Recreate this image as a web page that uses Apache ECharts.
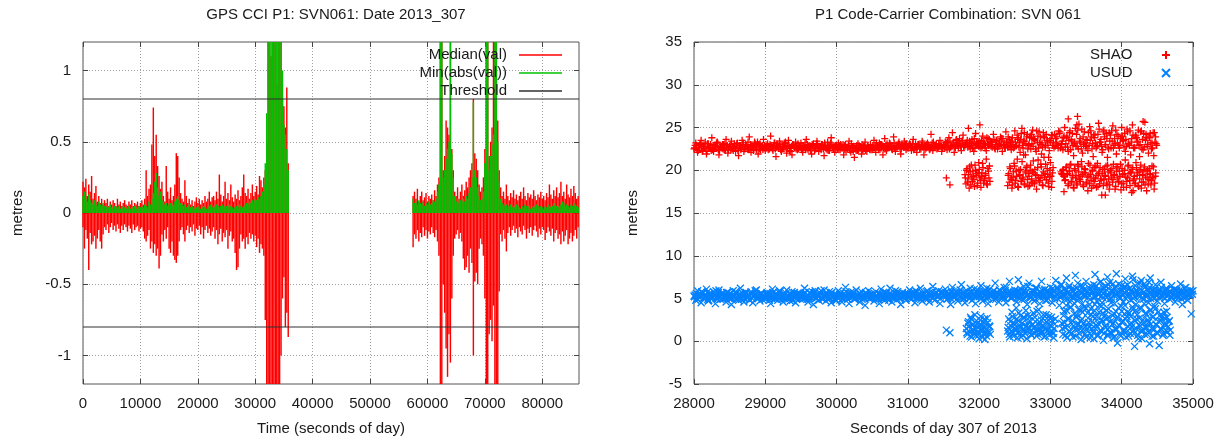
<!DOCTYPE html>
<html><head><meta charset="utf-8">
<script src="https://cdn.jsdelivr.net/npm/echarts@6/dist/echarts.min.js"></script>
<style>html,body{margin:0;padding:0;background:#fff}#c{width:1227px;height:441px}</style>
</head><body><div id="c"></div>
<script>
// ---------------- LEFT CHART DATA ----------------
const leftTitle = 'GPS CCI P1: SVN061: Date 2013_307';
const binStep = 250;            // seconds per impulse bin
const segAStart = 0;
const segBStart = 57500;
const medianHiA = [0.22,0.18,0.24,0.12,0.20,0.15,
 0.26,0.10,0.14,0.19,0.08,0.12,0.07,0.10,0.06,0.09,
 0.07,0.10,0.05,0.08,0.06,0.09,0.07,0.05,0.10,0.06,0.08,0.05,0.07,0.09,0.06,
 0.05,0.08,0.06,0.09,0.05,0.07,0.06,0.08,0.05,0.07,
 0.09,0.06,0.10,0.30,0.12,0.17,0.20,
 0.48,0.74,0.40,0.55,0.33,0.26,0.17,0.22,0.12,
 0.08,0.33,0.15,0.10,0.18,0.09,0.12,0.20,
 0.42,0.40,0.25,0.14,
 0.10,0.08,0.23,0.12,0.07,0.10,0.06,0.09,0.05,0.08,0.11,0.07,0.10,0.06,0.09,0.07,0.12,0.08,0.10,0.15,0.08,0.11,
 0.12,0.09,0.15,0.10,0.27,0.13,0.08,0.12,0.22,0.10,0.14,0.09,0.20,0.11,0.08,0.13,0.10,0.16,0.09,0.12,0.18,0.27,0.14,
 0.12,0.17,0.10,0.14,0.20,0.12,0.15,0.19,0.13,0.26,0.23,0.18,0.25,
 0.30,0.50,1.5,1.5,1.1,1.5,1.5,1.5,0.9,1.5,1.5,1.2,0.80,0.75,0.60,0.88,0.35];
const medianLoA = [-0.10,-0.25,-0.12,-0.18,-0.40,-0.14,
 -0.22,-0.20,-0.16,-0.25,-0.18,-0.12,-0.20,-0.25,-0.15,-0.10,
 -0.12,-0.08,-0.14,-0.10,-0.07,-0.12,-0.09,-0.13,-0.08,-0.11,-0.14,-0.09,-0.12,-0.08,-0.10,
 -0.13,-0.09,-0.11,-0.14,-0.08,-0.12,-0.10,-0.09,-0.13,-0.11,
 -0.10,-0.13,-0.18,-0.20,-0.16,-0.12,-0.25,
 -0.20,-0.28,-0.22,-0.30,-0.25,-0.39,-0.30,-0.15,-0.20,
 -0.12,-0.18,-0.10,-0.25,-0.28,-0.20,-0.30,-0.33,
 -0.35,-0.30,-0.20,-0.12,
 -0.10,-0.15,-0.20,-0.12,-0.09,-0.14,-0.10,-0.13,-0.08,-0.16,-0.11,-0.12,-0.09,-0.15,-0.10,-0.18,-0.12,-0.09,-0.14,-0.11,-0.16,-0.13,
 -0.10,-0.18,-0.12,-0.22,-0.15,-0.11,-0.20,-0.14,-0.17,-0.12,-0.25,-0.16,-0.13,-0.20,-0.18,-0.28,-0.40,-0.38,-0.25,-0.15,-0.20,-0.18,-0.25,
 -0.17,-0.22,-0.14,-0.18,-0.15,-0.20,-0.16,-0.24,-0.18,-0.28,-0.22,-0.25,-0.30,
 -0.75,-1.5,-1.5,-1.5,-1.5,-1.5,-1.5,-1.5,-1.5,-1.5,-1.5,-1.0,-0.60,-0.45,-0.80,-0.70,-0.87];
const minAbsA = [0.12,0.15,0.10,0.08,0.13,0.09,
 0.07,0.06,0.09,0.06,0.05,0.08,0.06,0.05,0.07,0.05,
 0.04,0.05,0.04,0.06,0.04,0.03,0.05,0.04,0.04,0.05,0.03,0.04,0.05,0.04,0.03,
 0.04,0.05,0.03,0.04,0.04,0.05,0.03,0.04,0.05,0.04,
 0.05,0.04,0.06,0.05,0.04,0.08,0.06,
 0.10,0.14,0.22,0.28,0.18,0.12,0.15,0.09,0.08,
 0.06,0.07,0.05,0.06,0.07,0.05,0.06,0.08,
 0.10,0.12,0.09,0.07,
 0.06,0.05,0.06,0.04,0.05,0.06,0.04,0.05,0.04,0.03,0.04,0.05,0.04,0.03,0.04,0.05,0.04,0.03,0.04,0.05,0.06,0.04,
 0.05,0.04,0.06,0.05,0.04,0.05,0.06,0.05,0.04,0.05,0.04,0.06,0.05,0.04,0.03,0.04,0.05,0.04,0.06,0.05,0.04,0.05,0.06,
 0.07,0.06,0.08,0.07,0.09,0.08,0.10,0.09,0.11,0.10,0.12,0.15,0.20,
 0.35,0.70,1.5,1.5,1.5,1.5,1.2,1.5,1.5,1.5,1.5,1.5,1.0,0.62,0.55,0.45,0.30];
const medianHiB = [0.12,0.15,0.10,0.17,0.08,0.12,0.15,0.09,0.11,0.14,0.08,0.12,0.10,0.13,0.09,0.16,0.12,0.20,
 0.25,1.2,1.5,0.30,0.40,0.65,0.60,0.55,1.5,0.45,0.30,0.15,
 0.12,0.18,0.10,0.15,0.20,0.12,0.16,0.22,0.18,0.25,0.30,
 0.35,0.80,0.42,0.38,0.30,0.20,0.15,0.18,0.25,
 0.45,1.5,1.5,0.40,0.50,0.60,1.5,1.5,1.5,0.65,0.30,
 0.18,0.12,0.15,0.10,0.20,0.12,0.09,0.14,0.11,0.16,
 0.10,0.13,0.09,0.12,0.15,0.10,0.18,0.12,0.09,0.14,
 0.11,0.13,0.10,0.16,0.12,0.09,0.13,0.11,0.15,0.10,
 0.12,0.09,0.14,0.11,0.20,0.13,0.10,0.16,0.12,0.18,
 0.11,0.14,0.22,0.12,0.15,0.10,0.20,0.13,0.11,0.17,
 0.12,0.19,0.14,0.10,0.12];
const medianLoB = [-0.24,-0.15,-0.18,-0.12,-0.20,-0.14,-0.17,-0.10,-0.16,-0.12,-0.18,-0.13,-0.15,-0.10,-0.14,-0.17,-0.12,-0.20,
 -0.30,-1.5,-1.5,-0.50,-0.70,-0.95,-1.15,-0.85,-1.05,-0.60,-0.30,-0.18,
 -0.15,-0.12,-0.18,-0.14,-0.20,-0.32,-0.40,-0.38,-0.30,-0.42,-0.25,
 -0.35,-1.0,-0.48,-0.42,-0.50,-0.25,-0.18,-0.22,-0.30,
 -0.60,-1.5,-1.5,-0.85,-0.75,-0.90,-0.65,-1.5,-1.5,-1.5,-0.55,
 -0.15,-0.20,-0.12,-0.18,-0.27,-0.14,-0.10,-0.16,-0.12,-0.09,
 -0.14,-0.11,-0.17,-0.10,-0.13,-0.15,-0.09,-0.12,-0.18,-0.11,
 -0.14,-0.10,-0.16,-0.12,-0.09,-0.13,-0.17,-0.11,-0.15,-0.10,
 -0.12,-0.19,-0.14,-0.10,-0.13,-0.16,-0.11,-0.20,-0.14,-0.12,
 -0.18,-0.15,-0.22,-0.13,-0.20,-0.16,-0.12,-0.22,-0.18,-0.14,
 -0.20,-0.16,-0.12,-0.18,-0.10];
const minAbsB = [0.10,0.07,0.08,0.06,0.09,0.07,0.06,0.08,0.05,0.07,0.06,0.08,0.06,0.07,0.09,0.08,0.10,0.15,
 0.20,1.5,1.5,0.25,0.30,0.38,0.45,0.50,1.5,0.42,0.25,0.12,
 0.08,0.10,0.07,0.09,0.08,0.10,0.08,0.12,0.10,0.14,0.18,
 0.25,0.78,0.30,0.25,0.18,0.12,0.09,0.10,0.15,
 0.35,1.5,1.5,0.30,0.40,0.48,0.55,1.5,1.5,0.50,0.22,
 0.10,0.07,0.06,0.05,0.06,0.04,0.05,0.06,0.04,0.05,
 0.04,0.06,0.05,0.04,0.03,0.05,0.04,0.06,0.05,0.04,
 0.05,0.03,0.04,0.05,0.04,0.06,0.05,0.04,0.05,0.04,
 0.03,0.05,0.04,0.06,0.05,0.04,0.05,0.07,0.06,0.05,
 0.04,0.05,0.06,0.08,0.07,0.05,0.06,0.05,0.04,0.06,
 0.05,0.07,0.06,0.05,0.04];
const thresholds = [0.8, -0.8];
const leftXMax = 86400;
const leftXTicks = [0,10000,20000,30000,40000,50000,60000,70000,80000];
const leftYTicks = [-1,-0.5,0,0.5,1];

// ---------------- RIGHT CHART DATA ----------------
const rightTitle = 'P1 Code-Carrier Combination: SVN 061';
const bandStep = 25, clusterStep = 15;
const bandStartA = 28000, bandStartB = 28008, bandStartC = 28016, clusterOffsetB = 7;
const shaoBandA = [
 22.5,23.2,22.1,22.9,23.5,22.3,22.8,21.9,23.1,22.6,23.8,22.2,22.9,23.3,21.8,22.7,23.0,22.4,23.6,22.0,
 22.8,23.4,22.3,22.6,23.1,21.7,22.9,23.5,22.2,23.0,22.5,23.9,22.1,22.8,23.3,22.4,21.9,23.1,22.7,23.6,
 22.3,23.0,22.8,24.0,22.5,23.2,21.6,22.9,23.4,22.2,22.7,23.1,22.0,23.5,22.6,21.8,22.9,23.3,22.4,22.8,
 23.2,22.1,22.7,23.6,22.4,22.9,21.9,23.1,22.5,23.4,22.2,22.8,23.0,21.7,22.6,23.3,22.3,23.8,22.7,22.1,
 22.9,23.2,22.4,22.8,21.8,23.0,22.5,23.4,22.1,22.7,21.5,22.3,23.1,22.6,21.9,22.8,23.3,22.2,22.6,23.0,
 22.4,23.5,22.1,22.9,23.2,22.6,21.8,23.7,22.3,22.8,23.1,22.5,23.9,22.2,22.7,23.3,21.9,22.9,23.4,22.4,
 22.8,23.1,22.3,23.6,22.6,22.1,23.0,22.7,23.4,21.8,22.9,23.2,22.5,24.2,22.3,22.8,23.1,22.6,23.5,22.2,
 22.9,23.3,22.4,23.8,22.7,24.4,22.1,23.5,22.9,23.7,22.3,24.1,22.8,23.2,24.9,22.5,23.6,22.2,24.3,23.0,
 23.4,22.6,24.0,23.1,22.3,23.7,22.9,23.3,24.2,22.5,23.5,22.8,23.9,22.2,23.2,24.5,22.7,23.6,22.4,23.0,
 24.6,22.9,23.8,22.1,24.9,23.4,21.8,24.2,23.0,22.5,24.7,23.6,22.2,24.0,23.2,21.9,24.4,22.7,23.5,21.5,
 23.3,24.1,22.6,23.7,22.9,24.3,23.1,22.4,25.0,23.8,22.2,24.6,23.4,21.7,24.9,22.8,25.4,23.2,22.0,24.5,
 23.6,22.3,25.1,23.9,21.6,24.2,22.8,25.5,23.3,22.1,24.7,23.0,21.5,24.4,22.6,25.2,23.7,21.9,24.0,22.9,
 25.0,23.5,22.2,24.8,23.1,21.8,25.3,22.7,24.1,23.4,21.6,24.6,22.4,25.6,23.8,22.0,24.3,23.2,21.7,23.9];
const shaoBandB = [
 22.6,22.9,22.3,23.1,22.5,22.8,23.3,22.2,22.7,23.0,22.4,22.9,22.6,23.2,22.3,22.8,22.5,23.1,22.7,22.4,
 23.0,22.5,22.8,22.2,23.2,22.7,22.4,23.0,22.6,22.9,23.3,22.5,22.8,22.3,23.1,22.7,23.0,22.4,22.9,22.6,
 22.8,23.1,22.5,22.9,22.3,23.2,22.7,22.6,23.0,22.4,22.8,23.3,22.5,22.9,22.2,23.0,22.7,22.5,23.1,22.8,
 22.4,22.9,23.2,22.6,22.8,22.3,23.0,22.7,22.5,23.1,22.8,22.4,22.9,23.2,22.6,22.3,22.8,23.0,22.5,22.9,
 22.7,22.4,23.0,22.6,22.9,22.3,22.7,22.5,23.1,22.2,22.6,22.9,22.4,22.7,23.0,22.5,22.3,22.8,22.6,22.4,
 22.9,22.6,23.2,22.7,22.4,23.0,22.8,22.5,23.1,22.7,22.9,22.4,23.2,22.6,22.8,23.0,22.5,22.9,22.7,23.1,
 22.6,23.0,22.8,22.4,23.1,22.7,22.9,22.5,23.2,22.8,22.6,23.0,22.4,22.9,23.3,22.7,22.5,23.1,22.8,22.6,
 23.0,22.7,23.3,22.5,22.9,23.2,22.8,23.6,22.6,23.1,23.4,22.7,23.0,23.5,22.8,23.2,22.6,23.7,22.9,23.3,
 22.8,23.5,23.1,22.6,23.8,22.9,23.3,22.7,23.6,23.0,22.5,23.4,22.9,23.7,22.7,23.2,23.9,22.8,23.4,22.6,
 23.3,24.1,22.7,23.6,22.9,24.4,23.1,22.5,23.8,24.2,22.8,23.5,24.6,22.6,23.9,23.2,24.0,22.9,23.4,22.3,
 23.7,22.9,24.2,23.3,22.6,24.5,23.0,23.8,22.7,24.0,23.5,22.4,24.3,23.1,22.8,24.7,23.4,22.5,23.9,23.2,
 22.8,24.4,23.5,22.5,24.1,23.2,22.9,24.8,23.6,22.4,23.9,24.3,22.7,23.4,24.6,22.6,23.1,24.2,22.9,23.7,
 24.0,22.7,23.6,24.5,22.9,23.3,24.1,22.6,23.8,24.7,23.0,22.5,24.3,23.5,22.8,24.0,23.2,22.6,24.4,23.1];
const shaoBandC = [
 22.9,22.4,22.7,23.0,22.2,22.8,22.5,23.1,22.6,22.3,22.9,22.7,23.2,22.4,22.8,22.6,23.0,22.3,22.9,22.7,
 22.4,22.8,23.1,22.6,22.3,22.9,22.7,23.2,22.5,22.8,22.4,23.0,22.7,22.6,22.9,23.3,22.5,22.8,22.4,22.9,
 22.6,22.4,23.0,22.7,22.9,22.5,23.1,22.8,22.4,22.7,23.2,22.6,22.9,22.3,22.8,23.0,22.6,22.9,22.5,22.7,
 22.9,22.6,22.4,23.0,22.7,22.5,22.9,22.3,23.1,22.7,22.6,23.0,22.5,22.8,22.4,22.9,23.2,22.6,22.8,22.5,
 22.5,22.8,22.6,23.0,22.4,22.7,22.9,22.3,22.6,22.8,22.5,22.3,22.9,22.6,22.4,22.8,22.6,22.9,22.4,22.7,
 22.6,22.9,22.7,22.4,23.0,22.8,22.5,22.9,22.6,23.2,22.7,22.9,22.6,22.8,23.1,22.5,22.9,22.7,23.0,22.6,
 22.9,22.7,23.1,22.6,22.8,23.0,22.5,22.9,22.7,22.4,23.0,22.8,22.6,23.2,22.7,22.9,22.6,22.8,23.0,22.7,
 22.7,23.2,22.9,23.4,22.8,23.0,22.6,23.3,23.1,22.8,23.5,22.9,23.2,22.7,23.4,22.9,23.1,22.6,23.3,22.8,
 23.2,22.7,23.4,22.9,23.1,23.6,22.8,23.3,22.6,23.5,23.1,22.9,23.7,23.0,22.6,23.4,22.9,23.2,23.8,22.7,
 22.8,23.6,23.2,24.3,22.6,23.4,23.9,22.9,24.0,23.1,23.7,22.5,23.3,24.5,23.0,22.7,23.8,24.2,22.9,23.5,
 24.1,23.2,22.8,23.9,24.6,22.6,23.4,24.0,23.1,22.7,24.4,23.6,22.9,23.3,24.2,22.5,23.7,24.8,23.0,22.8,
 23.5,22.9,24.6,23.1,23.8,22.6,24.2,23.3,22.8,24.5,23.0,23.7,22.5,24.1,23.4,22.9,24.7,23.2,22.6,23.9,
 23.4,24.3,22.8,23.1,24.6,23.7,22.6,24.0,23.3,22.9,24.5,23.6,22.7,24.2,23.0,23.8,22.5,24.4,23.3,22.9];
const shaoLow1Start = 31800;
const shaoLow1A = [19.5,18.4,20.2,19.0,17.9,19.8,20.6,18.7,19.3,18.1,20.0,19.6,18.5,20.9,19.1,18.0,19.7,20.3,18.8,19.4,21.3,18.3,19.9,20.5];
const shaoLow1B = [19.1,20.0,18.6,19.5,20.4,18.3,19.2,19.9,18.9,20.6,19.4,18.2,19.7,20.1,18.8,19.3,20.8,18.5,19.0,19.6,18.4,20.2,19.1,18.7];
const shaoLow2Start = 32400;
const shaoLow2A = [18.2,19.6,20.4,18.9,17.9,19.2,20.8,18.5,19.9,21.3,18.0,19.4,20.1,18.7,19.0,21.8,18.3,19.7,20.5,18.1,
 19.3,20.0,18.6,19.8,21.1,18.4,19.5,17.8,20.3,19.1,18.8,20.7,19.4,18.2,21.5,19.6,18.9,20.2,18.5,19.2,20.9,18.0,19.7];
const shaoLow2B = [19.4,18.6,20.2,19.1,18.3,19.8,20.5,18.8,19.3,18.1,20.0,19.5,18.7,21.0,19.2,18.4,19.9,20.3,18.9,19.6,
 18.2,20.6,19.0,18.5,19.7,20.1,18.8,19.4,21.2,18.6,19.1,20.4,18.3,19.8,19.2,20.7,18.9,19.5,18.1,20.0,19.3,18.7,20.3];
const shaoLow3Start = 33150;
const shaoLow3A = [19.8,19.5,20.1,19.3,18.9,20.4,19.6,18.4,19.9,20.7,18.6,19.2,17.9,20.0,19.4,18.3,20.5,19.0,18.7,21.0,
 19.5,18.1,20.2,19.7,18.5,17.6,19.3,20.6,18.8,19.9,18.2,20.3,19.1,18.0,20.8,19.6,18.4,19.0,17.1,20.1,
 18.9,19.4,20.5,18.3,19.8,17.8,20.0,19.2,18.6,20.7,19.5,18.1,19.9,20.4,18.7,19.3,17.7,20.2,18.5,19.6,
 21.2,18.0,19.1,20.6,18.8,19.7,17.4,20.3,19.0,18.4,20.9,19.4,18.2,19.8,20.1,17.9,19.5,18.6,20.4,19.2,
 17.6,20.0,18.9,19.6,18.3,20.5,19.1,17.8,19.3];
const shaoLow3B = [19.6,20.0,19.3,18.8,20.3,19.5,18.2,19.9,20.6,18.7,19.4,18.0,20.2,19.1,18.5,20.7,19.8,18.9,19.3,20.4,
 18.3,19.7,20.1,18.6,19.2,20.8,18.4,19.5,17.9,20.0,19.0,18.7,20.5,19.4,18.1,19.8,20.3,18.8,19.6,18.2,
 20.1,19.3,18.5,20.6,19.0,18.3,19.7,20.2,18.9,19.4,17.8,20.4,19.1,18.6,19.9,20.7,18.4,19.5,18.0,20.0,
 19.2,18.7,20.5,19.6,18.2,19.8,20.1,18.8,19.3,18.5,20.3,19.7,18.1,19.0,20.6,18.6,19.4,20.0,18.3,19.9,
 19.1,18.4,20.2,19.5,18.8,19.2,20.4,18.5,19.7];
const shaoExtra = [[31540,19.1],[31590,18.3],[32010,25.3],[33190,17.5],[33250,26.0],[33380,26.3],[33370,25.3],[33770,17.1],[34160,17.6],[34300,25.7]];
const usudBandA = [
 5.3,4.8,5.9,5.1,4.5,5.6,5.2,6.1,4.7,5.4,5.0,5.8,4.4,5.3,6.0,4.9,5.5,5.1,4.6,5.7,
 5.2,4.3,5.9,5.0,5.6,4.8,6.2,5.3,4.6,5.5,5.1,4.9,5.8,4.5,5.4,6.0,5.0,4.7,5.6,5.2,
 4.9,5.7,5.3,4.4,6.1,5.0,5.5,4.8,5.9,5.2,4.6,5.4,6.0,5.1,4.7,5.8,5.3,4.5,5.6,5.0,
 5.5,4.9,6.2,5.2,4.6,5.7,5.1,4.3,5.9,5.4,4.8,5.6,5.0,6.0,4.7,5.3,5.8,4.5,5.2,5.5,
 4.8,5.9,5.3,4.6,5.6,6.3,5.0,4.4,5.7,5.2,4.9,6.0,5.4,4.6,5.8,5.1,4.2,5.5,5.9,5.0,
 5.3,4.7,5.8,5.1,4.4,6.1,5.4,4.8,5.6,5.0,6.2,4.6,5.3,5.9,4.9,5.5,4.3,5.7,5.2,4.8,
 5.6,6.0,4.9,5.4,4.5,5.8,5.1,6.2,4.7,5.5,5.0,5.9,4.6,5.3,6.4,4.8,5.7,5.2,4.4,5.8,
 5.4,6.1,4.9,5.6,4.3,6.3,5.1,5.8,4.7,5.5,6.6,5.0,4.5,5.9,5.3,6.2,4.8,5.6,4.4,6.0,
 5.2,6.5,4.7,5.8,5.0,4.4,6.1,5.5,4.9,6.8,5.3,4.6,5.9,5.1,6.3,4.5,5.7,7.0,5.0,5.4,
 6.0,4.6,7.2,5.3,4.9,6.4,5.7,4.3,6.8,5.1,5.9,4.7,6.2,5.5,4.4,7.0,5.2,6.1,4.8,5.6,
 6.3,4.5,5.8,7.1,5.0,4.2,6.6,5.4,4.9,7.4,5.7,4.6,6.1,5.2,7.7,4.8,5.9,6.5,4.4,5.5,
 7.0,5.1,4.3,6.4,5.8,7.8,4.7,5.5,6.9,4.5,6.2,5.3,7.5,4.9,5.9,6.7,4.4,7.9,5.6,5.0,
 6.5,4.6,7.3,5.4,6.1,4.8,7.6,5.7,4.3,6.8,5.2,7.1,4.9,6.3,5.5,4.5,7.4,5.9,5.0,6.6,
 4.7,5.8,6.9,5.2,4.4,6.2,5.6,4.9,6.5,5.3,4.6,6.0,5.1,6.7,4.3,5.7,6.3,4.8,5.5,3.2,
 5.9];
const usudBandB = [
 5.2,5.6,4.9,5.4,5.8,5.0,5.3,5.7,4.8,5.5,5.1,5.4,5.9,5.0,5.3,5.6,4.9,5.2,5.7,5.1,
 5.5,5.0,5.3,5.8,4.9,5.4,5.1,5.6,5.0,5.7,5.2,4.8,5.5,5.3,5.9,5.0,5.4,5.6,4.9,5.3,
 5.1,5.5,4.8,5.3,5.7,5.0,5.4,5.2,5.8,4.9,5.6,5.1,5.3,5.0,5.5,4.8,5.7,5.2,5.4,5.6,
 5.0,5.4,5.7,4.9,5.3,5.1,5.8,5.2,5.0,5.5,5.3,5.9,4.9,5.4,5.6,5.1,5.0,5.7,5.3,4.8,
 5.4,5.1,5.6,5.0,5.3,5.8,4.9,5.5,5.2,5.7,5.0,5.3,5.1,5.6,4.9,5.4,5.7,5.2,5.0,5.5,
 5.1,5.6,5.3,4.9,5.5,5.0,5.7,5.2,5.4,4.8,5.6,5.3,5.1,5.5,5.8,5.0,5.4,5.2,5.6,5.3,
 5.4,5.0,5.7,5.3,5.9,5.1,5.5,4.9,5.6,5.2,5.8,5.0,5.4,5.7,5.1,5.5,5.3,5.9,5.0,5.6,
 5.3,5.7,5.0,5.5,5.9,5.2,5.6,4.9,5.4,6.0,5.1,5.7,5.3,5.5,5.0,5.8,5.4,6.1,5.2,5.6,
 5.5,5.0,5.8,5.3,6.2,5.1,5.6,5.4,5.9,4.9,5.7,6.0,5.2,5.5,5.0,6.3,5.4,5.8,5.1,5.6,
 5.3,5.9,5.1,6.1,5.5,4.9,5.7,6.4,5.2,5.6,5.0,5.8,6.2,5.4,5.1,6.0,5.5,4.8,5.9,5.3,
 5.7,6.2,5.0,5.5,6.0,5.2,6.6,5.4,5.8,4.9,6.3,5.6,5.1,6.1,5.3,6.8,5.0,5.7,6.4,5.2,
 5.6,6.3,4.9,5.9,6.6,5.2,6.0,5.5,7.0,5.1,5.8,6.4,5.3,6.9,5.0,5.7,6.2,5.4,6.7,5.1,
 5.8,6.2,5.0,6.6,5.4,5.9,7.2,5.2,6.0,5.5,6.8,5.1,5.7,6.4,5.3,6.9,5.0,5.6,6.1,5.4,
 5.9,5.2,6.3,5.6,5.0,6.1,5.4,5.8,5.1,6.0,5.5,5.3,5.9,5.0,5.7,6.2,5.2,5.6,5.4,5.8,
 5.3];
const usudBandC = [
 5.4,5.0,5.5,5.2,5.7,5.1,5.4,4.9,5.6,5.3,5.1,5.5,5.0,5.7,5.2,5.4,5.6,5.0,5.3,5.5,
 5.0,5.4,5.2,5.6,5.1,5.5,4.9,5.3,5.7,5.1,5.4,5.6,5.0,5.2,5.5,5.3,5.1,5.6,5.4,5.0,
 5.4,5.2,5.6,5.0,5.3,5.5,5.1,5.7,5.2,5.4,5.0,5.6,5.3,5.5,5.1,5.4,5.2,5.0,5.5,5.3,
 5.2,5.6,5.1,5.4,5.0,5.5,5.3,5.7,5.1,5.2,5.6,5.0,5.4,5.3,5.5,5.1,5.6,5.2,5.0,5.4,
 5.1,5.5,5.3,5.0,5.4,5.2,5.6,5.1,5.5,5.3,5.0,5.4,5.6,5.2,5.3,5.0,5.5,5.1,5.4,5.2,
 5.5,5.2,5.0,5.6,5.3,5.4,5.1,5.7,5.2,5.5,5.3,5.0,5.6,5.2,5.4,5.1,5.5,5.3,5.0,5.6,
 5.2,5.5,5.3,5.7,5.1,5.4,5.6,5.2,5.5,5.0,5.4,5.6,5.3,5.1,5.5,5.7,5.2,5.4,5.6,5.3,
 5.6,5.3,5.5,5.1,5.7,5.4,5.2,5.6,5.8,5.3,5.5,5.0,5.7,5.4,5.6,5.2,5.5,5.3,5.7,5.4,
 5.3,5.7,5.4,5.9,5.2,5.6,5.3,5.8,5.5,5.1,5.6,5.4,5.7,5.2,5.9,5.5,5.3,5.6,5.4,5.8,
 5.6,5.2,5.8,5.4,5.7,6.0,5.3,5.5,5.1,5.9,5.4,6.2,5.6,5.2,5.7,5.5,6.0,5.3,5.8,5.4,
 5.5,5.9,5.3,6.3,5.6,5.1,5.8,6.1,5.4,5.7,6.5,5.2,5.9,5.5,6.2,5.3,5.8,5.6,6.0,5.4,
 5.9,5.4,6.1,5.7,5.2,6.5,5.5,6.0,5.3,6.3,5.8,5.1,6.6,5.6,5.9,5.4,6.4,5.7,5.2,6.1,
 5.5,6.4,5.9,5.3,6.2,5.7,5.0,6.5,5.8,5.4,6.1,5.6,6.7,5.2,5.9,6.3,5.5,6.0,5.7,5.3,
 5.6,5.9,5.3,5.7,6.0,5.4,5.8,5.2,5.6,6.1,5.3,5.7,5.5,5.9,5.1,5.6,5.8,5.4,6.0,5.5,
 5.6];
const usudLow1Start = 31820;
const usudLow1A = [1.5,0.8,2.3,1.1,2.8,0.5,1.9,1.3,3.1,0.7,2.0,1.6,0.3,2.5,1.2,1.8,0.9,2.6,1.4,0.6,2.2,1.0,1.7];
const usudLow1B = [1.0,2.1,1.7,0.6,2.6,1.3,2.0,0.9,1.5,2.4,1.1,0.7,1.9,2.9,1.4,0.5,2.2,1.6,1.0,2.7,1.2,1.8,0.8];
const usudLow2Start = 32400;
const usudLow2A = [1.2,2.6,0.5,1.8,3.4,0.9,2.1,1.5,3.9,0.4,2.4,1.1,3.0,1.7,0.7,2.8,1.3,3.6,0.3,2.0,
 1.6,2.9,0.8,1.9,3.3,1.0,2.3,0.6,1.4,3.7,2.2,0.9,1.8,2.7,0.5,1.5,3.1,1.2,2.5,0.7,
 1.9,2.8,1.1,0.4,2.0];
const usudLow2B = [1.6,0.8,2.3,1.2,2.9,0.6,1.9,1.4,2.6,1.0,3.3,1.7,0.5,2.1,1.3,2.7,0.9,1.8,3.0,1.5,
 2.4,1.1,0.7,2.0,1.6,2.8,1.2,3.5,0.8,1.9,1.4,2.5,1.0,3.1,1.7,0.6,2.2,1.3,2.9,1.1,
 1.8,2.4,0.9,1.5,2.6];
const usudLow3Start = 33160;
const usudLow3A = [2.1,0.8,3.5,1.6,4.2,0.4,2.7,1.2,3.9,0.9,2.4,1.8,4.4,0.6,3.1,1.4,2.0,3.7,0.2,2.6,
 1.1,4.0,1.7,0.5,3.3,2.2,0.9,3.8,1.5,2.9,0.3,4.3,1.9,2.5,0.7,3.4,1.3,4.1,2.3,0.1,
 3.0,1.6,3.6,0.8,2.8,1.0,4.5,2.0,0.4,3.2,1.4,2.7,-0.2,3.9,1.8,0.6,3.5,2.4,1.1,4.2,
 0.5,2.9,1.7,3.3,0.9,2.1,4.0,1.3,-0.6,3.6,2.6,0.7,1.9,3.8,1.2,0.3,2.5,4.4,1.6,3.1,
 0.8,2.2,-0.3,3.7,1.5,2.8,0.6,4.1,2.0,1.0,3.4,-0.5,2.4,1.4,3.0,0.9,2.7,1.8,3.5,1.1,
 2.3,0.7];
const usudLow3B = [1.5,3.0,2.2,0.7,3.6,1.8,2.6,1.1,4.0,2.0,0.5,3.2,1.4,2.8,1.9,3.7,0.9,2.4,1.6,3.4,
 2.1,0.8,3.9,1.3,2.7,1.7,0.4,3.1,2.3,1.0,3.6,1.5,2.9,0.6,2.0,4.2,1.2,2.5,3.3,0.9,
 1.8,2.6,0.7,3.8,1.6,2.3,1.0,3.0,2.1,0.5,3.5,1.4,2.8,1.9,0.8,4.1,2.2,1.3,3.2,2.6,
 1.1,3.4,0.6,2.0,2.9,1.7,3.7,0.9,2.4,1.5,3.1,0.3,2.7,1.8,3.9,1.2,2.2,0.8,3.3,1.6,
 2.5,1.0,3.6,2.0,0.6,2.9,1.4,3.8,1.9,0.9,2.3,3.0,1.5,2.7,0.7,3.4,2.1,1.2,2.8,1.7,
 2.4,1.3];
const usudExtra = [[31540,1.3],[31590,1.0],[32080,0.2]];
const rightX = {min: 28000, max: 35000, interval: 1000};
const rightY = {min: -5, max: 35, interval: 5};

// ---------------- BUILD ----------------
const FONT = '"Liberation Sans", Arial, sans-serif';
const TXT = '#1a1a1a';
const RED = '#ff0000', GREEN = '#00c000', BLUE = '#0080ff';

function seq(start, step, vals) { return vals.map((v, i) => [start + i * step, v]); }
const medianData = [].concat(seq(segAStart, binStep, medianHiA), seq(segAStart, binStep, medianLoA),
                             seq(segBStart, binStep, medianHiB), seq(segBStart, binStep, medianLoB));
const minAbsData = [].concat(seq(segAStart, binStep, minAbsA), seq(segBStart, binStep, minAbsB));
const shaoData = [].concat(
  seq(bandStartA, bandStep, shaoBandA), seq(bandStartB, bandStep, shaoBandB), seq(bandStartC, bandStep, shaoBandC),
  seq(shaoLow1Start, clusterStep, shaoLow1A), seq(shaoLow1Start + clusterOffsetB, clusterStep, shaoLow1B),
  seq(shaoLow2Start, clusterStep, shaoLow2A), seq(shaoLow2Start + clusterOffsetB, clusterStep, shaoLow2B),
  seq(shaoLow3Start, clusterStep, shaoLow3A), seq(shaoLow3Start + clusterOffsetB, clusterStep, shaoLow3B),
  shaoExtra);
const usudData = [].concat(
  seq(bandStartA, bandStep, usudBandA), seq(bandStartB, bandStep, usudBandB), seq(bandStartC, bandStep, usudBandC),
  seq(usudLow1Start, clusterStep, usudLow1A), seq(usudLow1Start + clusterOffsetB, clusterStep, usudLow1B),
  seq(usudLow2Start, clusterStep, usudLow2A), seq(usudLow2Start + clusterOffsetB, clusterStep, usudLow2B),
  seq(usudLow3Start, clusterStep, usudLow3A), seq(usudLow3Start + clusterOffsetB, clusterStep, usudLow3B),
  usudExtra);

function impulse(params, api) {
  const t = api.value(0), v = api.value(1);
  const p0 = api.coord([t, 0]);
  const p1 = api.coord([t, v]);
  const cs = params.coordSys;
  const y1 = Math.max(cs.y, Math.min(cs.y + cs.height, p1[1]));
  const w = api.size([binStep, 0])[0];
  return {type: 'rect', shape: {x: p0[0] - w / 2, y: Math.min(p0[1], y1), width: w, height: Math.abs(y1 - p0[1])},
          style: {fill: api.visual('color')}};
}

const plain = function (v) { return String(v); };
const gridSplit = {show: true, lineStyle: {color: '#a0a0a0', type: [1, 2], width: 1}};
const tickIn = {show: true, inside: true, length: 5, lineStyle: {color: '#444'}};
const lbl = {fontSize: 15, color: TXT, fontFamily: FONT, margin: 12, formatter: plain};
const nameStyle = {fontSize: 15, color: TXT, fontFamily: FONT};
const noLine = {show: false, onZero: false};

const option = {
  animation: false,
  textStyle: {fontFamily: FONT},
  title: [
    {text: leftTitle, left: 331, top: 2, textAlign: 'center',
     textStyle: {fontSize: 15, fontWeight: 'normal', color: TXT, fontFamily: FONT}},
    {text: rightTitle, left: 943, top: 2, textAlign: 'center',
     textStyle: {fontSize: 15, fontWeight: 'normal', color: TXT, fontFamily: FONT}}
  ],
  legend: [
    {data: [{name: 'Median(val)', icon: 'rect'}, {name: 'Min(abs(val))', icon: 'rect'}, {name: 'Threshold', icon: 'rect'}],
     orient: 'vertical', align: 'right', right: 665, top: 46, itemWidth: 43, itemHeight: 1.5, itemGap: 0, padding: 0,
     selectedMode: false, textStyle: {fontSize: 15, color: TXT, fontFamily: FONT, lineHeight: 18, padding: [0, 7, 0, 0]}},
    {data: ['SHAO', 'USUD'],
     orient: 'vertical', align: 'right', right: 56, top: 46, itemWidth: 43, itemHeight: 8, itemGap: 0, padding: 0,
     selectedMode: false, textStyle: {fontSize: 15, color: TXT, fontFamily: FONT, lineHeight: 18, padding: [0, 7, 0, 0]}}
  ],
  grid: [
    {left: 83, top: 42, width: 496, height: 342, show: true, borderColor: '#555', borderWidth: 1, backgroundColor: 'transparent'},
    {left: 694, top: 42, width: 499, height: 342, show: true, borderColor: '#555', borderWidth: 1, backgroundColor: 'transparent'}
  ],
  xAxis: [
    {gridIndex: 0, type: 'value', min: 0, max: leftXMax, name: 'Time (seconds of day)', nameLocation: 'middle', nameGap: 37,
     nameTextStyle: nameStyle, axisLine: noLine,
     axisTick: Object.assign({customValues: leftXTicks}, tickIn),
     axisLabel: Object.assign({customValues: leftXTicks}, lbl),
     splitLine: Object.assign({customValues: leftXTicks}, gridSplit)},
    {gridIndex: 0, type: 'value', position: 'top', min: 0, max: leftXMax, axisLine: noLine,
     axisTick: Object.assign({customValues: leftXTicks}, tickIn), axisLabel: {show: false, customValues: leftXTicks}, splitLine: {show: false}},
    {gridIndex: 1, type: 'value', min: rightX.min, max: rightX.max, interval: rightX.interval,
     name: 'Seconds of day 307 of 2013', nameLocation: 'middle', nameGap: 37, nameTextStyle: nameStyle,
     axisLine: noLine, axisTick: tickIn, axisLabel: lbl, splitLine: gridSplit},
    {gridIndex: 1, type: 'value', position: 'top', min: rightX.min, max: rightX.max, interval: rightX.interval,
     axisLine: noLine, axisTick: tickIn, axisLabel: {show: false}, splitLine: {show: false}}
  ],
  yAxis: [
    {gridIndex: 0, type: 'value', min: -1.2, max: 1.2, name: 'metres', nameLocation: 'middle', nameGap: 58,
     nameTextStyle: nameStyle, axisLine: noLine,
     axisTick: Object.assign({customValues: leftYTicks}, tickIn),
     axisLabel: Object.assign({customValues: leftYTicks}, lbl),
     splitLine: Object.assign({customValues: leftYTicks}, gridSplit)},
    {gridIndex: 0, type: 'value', position: 'right', min: -1.2, max: 1.2, axisLine: noLine,
     axisTick: Object.assign({customValues: leftYTicks}, tickIn), axisLabel: {show: false, customValues: leftYTicks}, splitLine: {show: false}},
    {gridIndex: 1, type: 'value', min: rightY.min, max: rightY.max, interval: rightY.interval,
     name: 'metres', nameLocation: 'middle', nameGap: 54, nameTextStyle: nameStyle,
     axisLine: noLine, axisTick: tickIn, axisLabel: lbl, splitLine: gridSplit},
    {gridIndex: 1, type: 'value', position: 'right', min: rightY.min, max: rightY.max, interval: rightY.interval,
     axisLine: noLine, axisTick: tickIn, axisLabel: {show: false}, splitLine: {show: false}}
  ],
  series: [
    {type: 'custom', name: 'Median(val)', xAxisIndex: 0, yAxisIndex: 0, data: medianData, renderItem: impulse,
     itemStyle: {color: RED}, silent: true, progressive: 0},
    {type: 'custom', name: 'Min(abs(val))', xAxisIndex: 0, yAxisIndex: 0, data: minAbsData, renderItem: impulse,
     itemStyle: {color: GREEN}, silent: true, progressive: 0},
    {type: 'line', name: 'Threshold', xAxisIndex: 0, yAxisIndex: 0, data: [[0, thresholds[0]], [leftXMax, thresholds[0]]],
     showSymbol: false, symbol: 'none', color: '#303030', itemStyle: {color: '#303030'}, lineStyle: {color: '#303030', width: 1.2}, silent: true},
    {type: 'line', name: 'Threshold', xAxisIndex: 0, yAxisIndex: 0, data: [[0, thresholds[1]], [leftXMax, thresholds[1]]],
     showSymbol: false, symbol: 'none', color: '#303030', itemStyle: {color: '#303030'}, lineStyle: {color: '#303030', width: 1.2}, silent: true},
    {type: 'scatter', name: 'SHAO', xAxisIndex: 2, yAxisIndex: 2, data: shaoData,
     symbol: 'path://M0,5L10,5M5,0L5,10', symbolSize: 7,
     itemStyle: {color: RED, borderColor: RED, borderWidth: 1.3, opacity: 1}, silent: true, progressive: 0, large: false},
    {type: 'scatter', name: 'USUD', xAxisIndex: 2, yAxisIndex: 2, data: usudData,
     symbol: 'path://M0,0L10,10M10,0L0,10', symbolSize: 7,
     itemStyle: {color: BLUE, borderColor: BLUE, borderWidth: 1.3, opacity: 1}, silent: true, progressive: 0, large: false}
  ]
};
const chart = echarts.init(document.getElementById('c'));
chart.setOption(option);
</script></body></html>
